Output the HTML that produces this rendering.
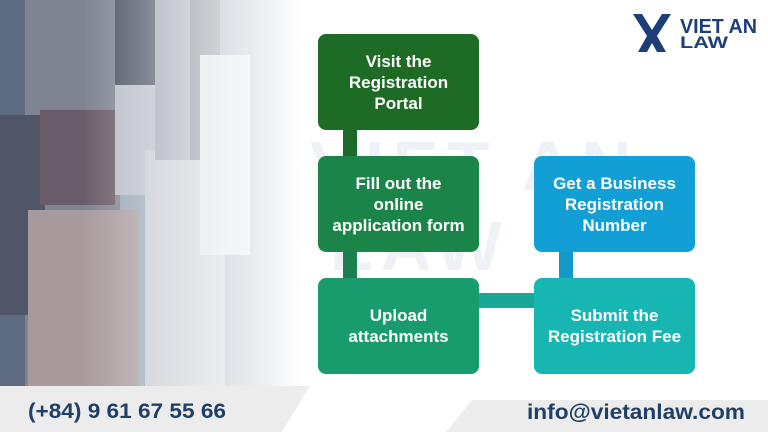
<!DOCTYPE html>
<html><head><meta charset="utf-8"><style>
body{margin:0;width:768px;height:432px;overflow:hidden;background:#fff;font-family:"Liberation Sans",sans-serif;position:relative}
.abs{position:absolute}
.box{position:absolute;width:161px;height:96px;border-radius:8px;color:#fff;font-weight:bold;font-size:17px;line-height:21px;display:flex;align-items:center;justify-content:center;text-align:center}
</style></head><body>
<svg class="abs" style="left:0;top:0" width="330" height="386">
<defs><linearGradient id="f" x1="0" x2="1"><stop offset="0.25" stop-color="#fff" stop-opacity="0"/><stop offset="0.6" stop-color="#fff" stop-opacity="0.55"/><stop offset="0.92" stop-color="#fff" stop-opacity="1"/></linearGradient></defs>
<rect width="330" height="386" fill="#9aa6b4"/>
<rect x="0" y="0" width="30" height="386" fill="#5d6b80"/>
<rect x="25" y="0" width="95" height="386" fill="#7f8492"/>
<rect x="0" y="115" width="45" height="200" fill="#4e5668"/>
<rect x="40" y="110" width="75" height="95" fill="#6a5c68"/>
<rect x="28" y="210" width="110" height="176" fill="#a89a9c"/>
<rect x="115" y="0" width="40" height="150" fill="#4a5260"/>
<rect x="115" y="85" width="40" height="110" fill="#b8bcc6"/>
<rect x="145" y="150" width="80" height="236" fill="#c4c8d0"/>
<rect x="155" y="0" width="35" height="160" fill="#a0a6b0"/>
<rect x="190" y="0" width="30" height="160" fill="#78808a"/>
<rect x="200" y="55" width="50" height="200" fill="#d8dce2"/>
<rect width="330" height="386" fill="url(#f)"/>
</svg>
<svg class="abs" style="left:0;top:0" width="768" height="432">
<text x="310" y="190" font-size="70" font-weight="bold" fill="#eef2f6" letter-spacing="8">VIET AN</text>
<text x="330" y="270" font-size="70" font-weight="bold" fill="#eef2f6" letter-spacing="8">LAW</text>
<polygon points="0,386 310,386 282,432 0,432" fill="#ececec"/>
<polygon points="472,400 768,400 768,432 446,432" fill="#ececec"/>
<rect x="343" y="130" width="14" height="26" fill="#1d6b2b"/>
<rect x="343" y="252" width="14" height="26" fill="#1b8050"/>
<rect x="479" y="293" width="55" height="15" fill="#17a898"/>
<rect x="559" y="252" width="14" height="26" fill="#1199cc"/>
<g fill="#1c3f7a"><polygon points="633,14 642,14 652,30 662,14 671,14 657,36 666,52 657,52 652,43 647,52 638,52 647,36"/></g>
<text x="680" y="33" font-size="20" font-weight="bold" fill="#1c3f7a" textLength="77" lengthAdjust="spacingAndGlyphs">VIET AN</text>
<text x="680" y="48" font-size="17" font-weight="bold" fill="#1c3f7a" textLength="48" lengthAdjust="spacingAndGlyphs">LAW</text>
<text x="28" y="418" font-size="21" font-weight="bold" fill="#1f3f66" textLength="198" lengthAdjust="spacingAndGlyphs">(+84) 9 61 67 55 66</text>
<text x="527" y="419" font-size="21" font-weight="bold" fill="#1f3f66" textLength="218" lengthAdjust="spacingAndGlyphs">info@vietanlaw.com</text>
</svg>
<div class="box" style="left:318px;top:34px;background:#1d6b24">Visit the<br>Registration<br>Portal</div>
<div class="box" style="left:318px;top:156px;background:#1b8549">Fill out the<br>online<br>application form</div>
<div class="box" style="left:318px;top:278px;background:#189c6e">Upload<br>attachments</div>
<div class="box" style="left:534px;top:156px;background:#119fd6">Get a Business<br>Registration<br>Number</div>
<div class="box" style="left:534px;top:278px;background:#17b6b3">Submit the<br>Registration Fee</div>
</body></html>
